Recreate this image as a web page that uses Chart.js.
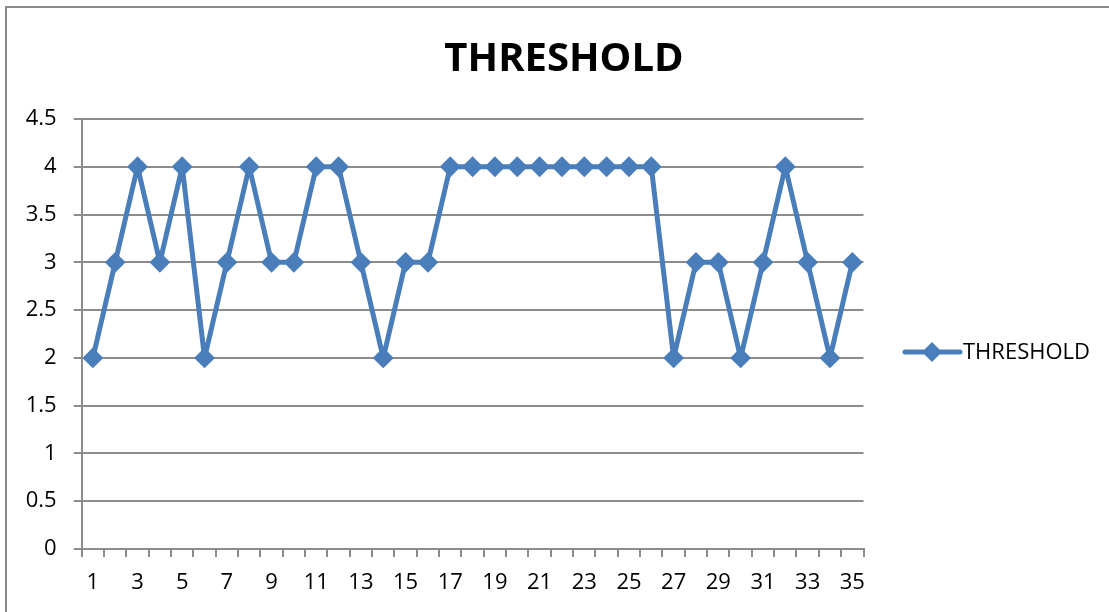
<!DOCTYPE html>
<html>
<head>
<meta charset="utf-8">
<script src="https://cdn.jsdelivr.net/npm/chart.js@4.4.0/dist/chart.umd.min.js"></script>
<style>
  html, body { margin: 0; padding: 0; background: #fff; overflow: hidden; }
  #wrap { position: relative; width: 1109px; height: 612px; }
  #frame { position: absolute; left: 5px; top: 6px; width: 1200px; height: 700px; border: 2px solid #8a8a8a; box-sizing: border-box; pointer-events: none; }
  canvas { position: absolute; left: 0; top: 0; }
</style>
</head>
<body>
<div id="wrap">
  <canvas id="c" width="1109" height="612"></canvas>
  <div id="frame"></div>
</div>
<script>
const categories = ['1','2','3','4','5','6','7','8','9','10','11','12','13','14','15','16','17','18','19','20','21','22','23','24','25','26','27','28','29','30','31','32','33','34','35'];
const thresholdValues = [2,3,4,3,4,2,3,4,3,3,4,4,3,2,3,3,4,4,4,4,4,4,4,4,4,4,2,3,3,2,3,4,3,2,3];
const seriesName = 'THRESHOLD';
const chartTitle = 'THRESHOLD';
const yMin = 0, yMax = 4.5, yStep = 0.5;

const BLUE = '#4a7ebb';
const GRID = '#8c8c8c';
const FONT = "'Open Sans', 'Liberation Sans', sans-serif";

const legendPlugin = {
  id: 'customLegend',
  afterDraw(chart) {
    const ctx = chart.ctx;
    const ds = chart.data.datasets[0];
    const y = 352, x0 = 905, x1 = 960, xm = 932;
    ctx.save();
    ctx.strokeStyle = ds.borderColor;
    ctx.lineWidth = 5;
    ctx.lineCap = 'round';
    ctx.beginPath(); ctx.moveTo(x0, y); ctx.lineTo(x1, y); ctx.stroke();
    ctx.fillStyle = ds.pointBackgroundColor;
    const r = 10;
    ctx.beginPath();
    ctx.moveTo(xm, y - r); ctx.lineTo(xm + r, y); ctx.lineTo(xm, y + r); ctx.lineTo(xm - r, y); ctx.closePath();
    ctx.fill();
    ctx.fillStyle = '#000';
    ctx.font = '22px ' + FONT;
    ctx.textBaseline = 'middle';
    ctx.textAlign = 'left';
    ctx.fillText(ds.label, 963, y + 1);
    ctx.restore();
  }
};

new Chart(document.getElementById('c'), {
  type: 'line',
  data: {
    labels: categories,
    datasets: [{
      label: seriesName,
      data: thresholdValues,
      borderColor: BLUE,
      backgroundColor: BLUE,
      borderWidth: 5,
      borderJoinStyle: 'round',
      pointStyle: 'rectRot',
      pointRadius: 9,
      pointBackgroundColor: BLUE,
      pointBorderColor: BLUE,
      pointBorderWidth: 2,
      tension: 0,
      fill: false
    }]
  },
  options: {
    responsive: false,
    animation: false,
    devicePixelRatio: 1,
    layout: { padding: { left: 19, right: 0, top: 0, bottom: 0 } },
    plugins: {
      legend: { display: false },
      tooltip: { enabled: false },
      title: {
        display: true,
        text: chartTitle,
        color: '#000',
        font: { family: FONT, size: 40, weight: 'bold', lineHeight: 1.2 },
        padding: { top: 36, bottom: 35 }
      }
    },
    scales: {
      x: {
        type: 'category',
        offset: true,
        grid: { display: true, offset: true, drawOnChartArea: false, drawTicks: true, tickLength: 8, color: GRID, lineWidth: 2 },
        border: { display: true, color: GRID, width: 2 },
        ticks: {
          autoSkip: false, maxRotation: 0, color: '#000', padding: 13,
          font: { family: FONT, size: 22 },
          callback: function(v, i) { return i % 2 === 0 ? this.getLabelForValue(v) : ''; }
        },
        afterFit: s => { s.height = 63; }
      },
      y: {
        min: yMin, max: yMax,
        grid: { color: GRID, lineWidth: 2, tickLength: 8, drawTicks: true },
        border: { display: true, color: GRID, width: 2 },
        ticks: { stepSize: yStep, color: '#000', padding: 17, font: { family: FONT, size: 22 },
          callback: v => String(Math.round(v * 10) / 10) },
        afterFit: s => { s.width = 62.7; }
      },
      yR: {
        position: 'right',
        display: true,
        grid: { display: false },
        border: { display: false },
        ticks: { display: false },
        afterFit: s => { s.width = 245.5; }
      }
    }
  },
  plugins: [legendPlugin]
});
</script>
</body>
</html>
